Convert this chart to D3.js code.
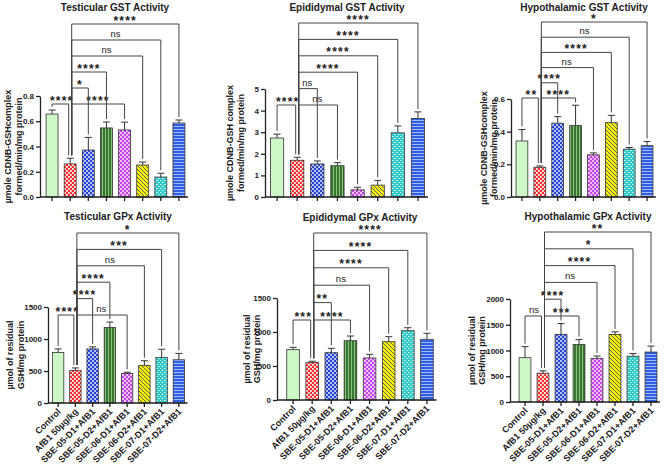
<!DOCTYPE html>
<html>
<head>
<meta charset="utf-8">
<script src="https://cdn.jsdelivr.net/npm/d3@7"></script>
<style>
  body { margin: 0; background: #fff; }
  text { font-family: "Liberation Sans", Arial, sans-serif; fill: #222; }
</style>
</head>
<body>
<script>
  const categories = ['Control', 'AfB1 50µg/kg', 'SBE-05-D1+AfB1', 'SBE-05-D2+AfB1',
    'SBE-06-D1+AfB1', 'SBE-06-D2+AfB1', 'SBE-07-D1+AfB1', 'SBE-07-D2+AfB1'];

  // GST activity (µmole CDNB-GSH complex formed/min/mg protein)
  const testGstMean = [0.657, 0.262, 0.372, 0.547, 0.531, 0.253, 0.158, 0.586];
  const testGstErr  = [0.032, 0.045, 0.100, 0.047, 0.062, 0.024, 0.030, 0.024];
  const epiGstMean  = [2.73, 1.70, 1.53, 1.45, 0.33, 0.55, 2.97, 3.64];
  const epiGstErr   = [0.18, 0.14, 0.14, 0.14, 0.12, 0.22, 0.32, 0.30];
  const hypGstMean  = [0.343, 0.182, 0.452, 0.437, 0.258, 0.455, 0.293, 0.314];
  const hypGstErr   = [0.070, 0.008, 0.040, 0.125, 0.012, 0.045, 0.010, 0.026];

  // GPx activity (µmol of residual GSH/mg protein)
  const testGpxMean = [790, 510, 845, 1180, 462, 585, 710, 675];
  const testGpxErr  = [55, 38, 32, 85, 18, 75, 130, 100];
  const epiGpxMean  = [740, 550, 696, 872, 618, 857, 1019, 893];
  const epiGpxErr   = [35, 20, 64, 69, 54, 74, 44, 88];
  const hypGpxMean  = [860, 560, 1313, 1115, 848, 1310, 890, 970];
  const hypGpxErr   = [215, 45, 210, 97, 45, 52, 52, 115];

  // comparisons: [from, to, label, stacking level]
  const testGstSig = [[0,1,'****',0],[1,4,'****',0],[1,2,'*',1],[1,3,'****',2],[1,5,'ns',3],[1,6,'ns',4],[1,7,'****',5]];
  const epiGstSig  = [[0,1,'****',0],[1,3,'ns',0],[1,2,'ns',1],[1,4,'****',2],[1,5,'****',3],[1,6,'****',4],[1,7,'****',5]];
  const hypGstSig  = [[0,1,'**',0],[1,3,'****',0],[1,2,'****',1],[1,4,'ns',2],[1,5,'****',3],[1,6,'ns',4],[1,7,'*',5]];
  const testGpxSig = [[0,1,'****',0],[1,4,'ns',0],[1,2,'****',1],[1,3,'****',2],[1,5,'ns',3],[1,6,'***',4],[1,7,'*',5]];
  const epiGpxSig  = [[0,1,'***',0],[1,3,'****',0],[1,2,'**',1],[1,4,'ns',2],[1,5,'****',3],[1,6,'****',4],[1,7,'****',5]];
  const hypGpxSig  = [[0,1,'ns',0],[1,3,'***',0],[1,2,'****',1],[1,4,'ns',2],[1,5,'****',3],[1,6,'*',4],[1,7,'**',5]];

  const gstTicks1 = [0, 0.2, 0.4, 0.6, 0.8];
  const gstTicks2 = [0, 1, 2, 3, 4, 5];
  const gstTicks3 = [0, 0.2, 0.4, 0.6];
  const gpxTicks1 = [0, 500, 1000, 1500];
  const gpxTicks3 = [0, 500, 1000, 1500, 2000];

  const gstLabel = ['µmole CDNB-GSHcomplex', 'formed/min/mg protein'];
  const gstLabel2 = ['µmole CDNB-GSH complex', 'formed/min/mg protein'];
  const gpxLabel = ['µmol of residual', 'GSH/mg protein'];

  const panels = [
    { title: 'Testicular GST Activity', mean: testGstMean, err: testGstErr, sig: testGstSig, ticks: gstTicks1, fmt: d3.format('.1f'), ylab: gstLabel,
      ax: 40, xr: [43, 188], yb: 197, yt: 96, tx: 115, ty: 11, lx: [11, 22], b0: 104, bs: 16, xlab: false },
    { title: 'Epididymal GST Activity', mean: epiGstMean, err: epiGstErr, sig: epiGstSig, ticks: gstTicks2, fmt: d3.format('d'), ylab: gstLabel2,
      ax: 265, xr: [267, 428], yb: 197, yt: 89, tx: 347, ty: 11, lx: [233, 244], b0: 105, bs: 16.4, xlab: false },
    { title: 'Hypothalamic GST Activity', mean: hypGstMean, err: hypGstErr, sig: hypGstSig, ticks: gstTicks3, fmt: d3.format('.1f'), ylab: gstLabel,
      ax: 511, xr: [513, 656], yb: 197, yt: 99, tx: 584, ty: 11, lx: [487, 497], b0: 98, bs: 15.2, xlab: false },
    { title: 'Testicular GPx Activity', mean: testGpxMean, err: testGpxErr, sig: testGpxSig, ticks: gpxTicks1, fmt: d3.format('d'), ylab: gpxLabel,
      ax: 48, xr: [49.5, 187.5], yb: 403, yt: 307, tx: 118, ty: 220, lx: [13, 24], b0: 315, bs: 16.4, xlab: true },
    { title: 'Epididymal GPx Activity', mean: epiGpxMean, err: epiGpxErr, sig: epiGpxSig, ticks: gpxTicks1, fmt: d3.format('d'), ylab: gpxLabel,
      ax: 277, xr: [283.5, 436.5], yb: 400, yt: 298, tx: 360, ty: 221, lx: [250, 260], b0: 320, bs: 17.4, xlab: true },
    { title: 'Hypothalamic GPx Activity', mean: hypGpxMean, err: hypGpxErr, sig: hypGpxSig, ticks: gpxTicks3, fmt: d3.format('d'), ylab: gpxLabel,
      ax: 510, xr: [516, 660], yb: 402, yt: 299, tx: 588, ty: 220, lx: [475, 485], b0: 316, bs: 16.8, xlab: true }
  ];

  const svg = d3.select('body').append('svg')
      .attr('width', 670)
      .attr('height', 467);

  // fill patterns, one per group
  const defs = svg.append('defs');
  function pattern(id, w, h, bg, draw) {
    const p = defs.append('pattern').attr('id', id)
        .attr('patternUnits', 'userSpaceOnUse')
        .attr('width', w).attr('height', h);
    p.append('rect').attr('width', w).attr('height', h).attr('fill', bg);
    draw(p);
  }
  pattern('p0', 4, 4, '#c8f6c0', p => p.append('path').attr('d', 'M0,4L4,0').attr('stroke', '#e4fde0').attr('stroke-width', 0.8));
  pattern('p1', 4, 4, '#ff2b2b', p => {
    p.append('rect').attr('x', 0).attr('y', 0).attr('width', 1.8).attr('height', 1.8).attr('fill', '#fff');
    p.append('rect').attr('x', 2).attr('y', 2).attr('width', 1.8).attr('height', 1.8).attr('fill', '#fff');
  });
  pattern('p2', 4, 4, '#2243d6', p => {
    p.append('circle').attr('cx', 1).attr('cy', 1).attr('r', 0.9).attr('fill', '#fff');
    p.append('circle').attr('cx', 3).attr('cy', 3).attr('r', 0.9).attr('fill', '#fff');
  });
  pattern('p3', 3, 3, '#3a7633', p => p.append('rect').attr('x', 0).attr('width', 1).attr('height', 3).attr('fill', '#8cc47c'));
  pattern('p4', 4, 4, '#c843ec', p => {
    p.append('circle').attr('cx', 1).attr('cy', 1).attr('r', 0.9).attr('fill', '#fff');
    p.append('circle').attr('cx', 3).attr('cy', 3).attr('r', 0.9).attr('fill', '#fff');
  });
  pattern('p5', 4, 4, '#f4f200', p => p.append('path').attr('d', 'M-1,-1L5,5M-1,3L1,5M3,-1L5,1').attr('stroke', '#555').attr('stroke-width', 0.9));
  pattern('p6', 4, 4, '#32c9c9', p => {
    p.append('rect').attr('x', 0).attr('y', 0).attr('width', 1.5).attr('height', 1).attr('fill', '#e8ffff');
    p.append('rect').attr('x', 2).attr('y', 2).attr('width', 1.5).attr('height', 1).attr('fill', '#e8ffff');
  });
  pattern('p7', 3, 3, '#2f5ee0', p => p.append('rect').attr('y', 0).attr('width', 3).attr('height', 1).attr('fill', '#a6b8ff'));

  panels.forEach(drawPanel);

  function drawPanel(p) {
    const g = svg.append('g');
    const x = d3.scaleBand().domain(categories).range(p.xr).padding(0);
    const y = d3.scaleLinear().domain([0, d3.max(p.ticks)]).range([p.yb, p.yt]);
    const bw = x.bandwidth() * 0.66;
    const cx = i => x(categories[i]) + x.bandwidth() / 2;
    const topOf = i => y(p.mean[i] + p.err[i]);

    // title
    g.append('text')
        .attr('x', p.tx).attr('y', p.ty)
        .attr('text-anchor', 'middle')
        .style('font-size', '10px').style('font-weight', 'bold')
        .text(p.title);

    // y axis title (two lines)
    p.ylab.forEach((t, k) => {
      g.append('text')
          .attr('transform', `translate(${p.lx[k]},${(p.yb + p.yt) / 2}) rotate(-90)`)
          .attr('text-anchor', 'middle')
          .style('font-size', '9px').style('font-weight', 'bold')
          .text(t);
    });

    // bars
    g.append('g').selectAll('rect')
        .data(p.mean)
        .enter()
        .append('rect')
        .attr('x', (d, i) => cx(i) - bw / 2)
        .attr('y', d => y(d))
        .attr('width', bw)
        .attr('height', d => p.yb - y(d))
        .attr('fill', (d, i) => `url(#p${i})`)
        .attr('stroke', '#333')
        .attr('stroke-width', 0.8);

    // error bars (upper only)
    const eb = g.append('g').attr('stroke', '#333').attr('stroke-width', 1);
    p.mean.forEach((m, i) => {
      eb.append('line').attr('x1', cx(i)).attr('x2', cx(i)).attr('y1', y(m)).attr('y2', topOf(i));
      eb.append('line').attr('x1', cx(i) - 3.5).attr('x2', cx(i) + 3.5).attr('y1', topOf(i)).attr('y2', topOf(i));
    });

    // axes
    const yAxis = d3.axisLeft(y).tickValues(p.ticks).tickFormat(p.fmt).tickSize(4).tickSizeOuter(0).tickPadding(2);
    const ya = g.append('g').attr('transform', `translate(${p.ax},0)`).call(yAxis);
    const xAxis = d3.axisBottom(x).tickSize(4).tickSizeOuter(0).tickFormat(p.xlab ? null : '');
    const xa = g.append('g').attr('transform', `translate(0,${p.yb})`).call(xAxis);
    xa.select('.domain').remove();
    xa.append('line').attr('x1', p.ax).attr('x2', p.xr[1]).attr('stroke', '#222').attr('stroke-width', 1.3);
    [ya, xa].forEach(a => {
      a.selectAll('.domain, .tick line').attr('stroke', '#222').attr('stroke-width', 1.3);
      a.selectAll('text').style('font-size', '8px').style('font-weight', 'bold').attr('fill', '#222');
    });
    if (p.xlab) {
      xa.selectAll('.tick text')
          .style('font-size', '9px')
          .attr('text-anchor', 'end')
          .attr('x', 0).attr('y', 0).attr('dy', '0.35em')
          .attr('transform', 'translate(1,7) rotate(-45)');
    }

    // significance brackets
    const lefts = new Set(p.sig.map(s => s[0]));
    const rights = new Set(p.sig.map(s => s[1]));
    const br = g.append('g');
    p.sig.forEach(([a, b, lab, lv]) => {
      const by = p.b0 - lv * p.bs;
      const xa0 = cx(a) + (rights.has(a) ? 1.5 : 0);
      const xb0 = cx(b) - (lefts.has(b) ? 1.5 : 0);
      br.append('path')
          .attr('d', `M${xa0},${topOf(a) - 3}V${by}H${xb0}V${topOf(b) - 3}`)
          .attr('fill', 'none')
          .attr('stroke', '#444')
          .attr('stroke-width', 1);
      const ns = lab === 'ns';
      br.append('text')
          .attr('x', (cx(a) + cx(b)) / 2 + (ns ? 0 : 0.6))
          .attr('y', ns ? by - 3 : by + 0.5)
          .attr('text-anchor', 'middle')
          .style('font-size', ns ? '9.5px' : '12px')
          .style('letter-spacing', ns ? null : '1.2px')
          .style('font-weight', ns ? 'normal' : 'bold')
          .text(lab);
    });
  }
</script>
</body>
</html>
